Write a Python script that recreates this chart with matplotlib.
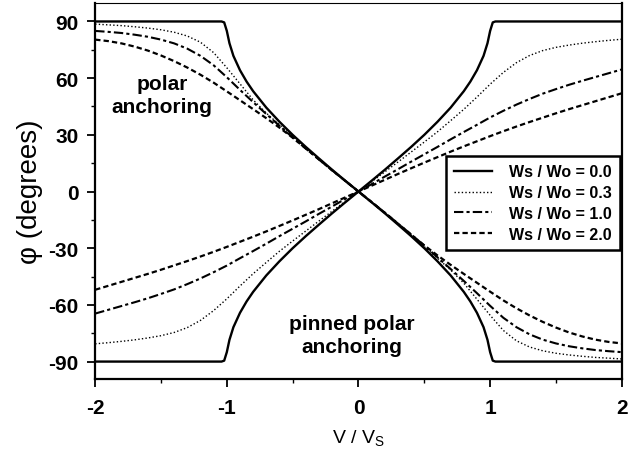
import matplotlib
matplotlib.use("Agg")
import matplotlib.pyplot as plt
import numpy as np

plt.rcParams['font.family'] = ['Liberation Sans', 'DejaVu Sans']
plt.rcParams['axes.unicode_minus'] = False
plt.rcParams['mathtext.fontset'] = 'custom'
plt.rcParams['mathtext.rm'] = 'Liberation Sans'
plt.rcParams['mathtext.default'] = 'regular'

# ------------------------------------------------------------------
# Data
# ------------------------------------------------------------------

# Ws/Wo = 0.0 (solid); the rising branch is the same curve mirrored
v_00 = [-2.0, -1.04, -1.02, -1.0, -0.98, -0.95, -0.9, -0.85, -0.8, -0.7, -0.6, -0.5, -0.4,
        -0.3, -0.2, -0.1, 0.0, 0.1, 0.2, 0.3, 0.4, 0.5, 0.6, 0.7, 0.8, 0.85, 0.9,
        0.95, 0.98, 1.0, 1.02, 1.04, 2.0]
phi_00 = [90, 90, 89.5, 85, 78.5, 71.8, 64.2, 58.2, 53.1, 44.4, 36.9, 30.0, 23.6,
          17.5, 11.5, 5.7, 0, -5.7, -11.5, -17.5, -23.6, -30.0, -36.9, -44.4, -53.1, -58.2, -64.2,
          -71.8, -78.5, -85, -89.5, -90, -90]

# common V/Vs grid for the other curves
v = [-2.0, -1.9, -1.8, -1.7, -1.6, -1.5, -1.4, -1.3, -1.2, -1.1, -1.0,
     -0.9, -0.8, -0.7, -0.6, -0.5, -0.4, -0.3, -0.2, -0.1, 0.0,
     0.1, 0.2, 0.3, 0.4, 0.5, 0.6, 0.7, 0.8, 0.9, 1.0,
     1.1, 1.2, 1.3, 1.4, 1.5, 1.6, 1.7, 1.8, 1.9, 2.0]

# polar anchoring branch (falling)
phi_03_polar = [88.6, 88.2, 87.8, 87.2, 86.5, 85.6, 84.3, 82.3, 79.0, 73.5, 65.5,
                57.0, 48.5, 41.5, 35.3, 29.2, 23.2, 17.3, 11.4, 5.7, 0,
                -5.7, -11.4, -17.3, -23.2, -29.2, -35.3, -41.5, -48.5, -57.0, -65.5,
                -73.5, -79.0, -82.3, -84.3, -85.6, -86.5, -87.2, -87.8, -88.2, -88.6]
phi_10_polar = [85.0, 84.5, 83.9, 83.0, 81.9, 80.4, 78.4, 75.6, 71.8, 66.8, 60.5,
                53.8, 47.3, 41.0, 34.8, 28.6, 22.7, 16.9, 11.2, 5.6, 0,
                -5.6, -11.2, -16.9, -22.7, -28.6, -34.8, -41.0, -47.3, -53.8, -60.5,
                -66.8, -71.8, -75.6, -78.4, -80.4, -81.9, -83.0, -83.9, -84.5, -85.0]
phi_20_polar = [80.4, 79.6, 78.4, 76.7, 74.6, 72.0, 69.0, 65.6, 61.8, 57.6, 53.0,
                48.3, 43.6, 38.8, 33.8, 28.5, 22.8, 17.0, 11.2, 5.6, 0,
                -5.6, -11.2, -17.0, -22.8, -28.5, -33.8, -38.8, -43.6, -48.3, -53.0,
                -57.6, -61.8, -65.6, -69.0, -72.0, -74.6, -76.7, -78.4, -79.6, -80.4]

# pinned polar anchoring branch (rising)
phi_03_pinned = [-80.6, -80.0, -79.3, -78.5, -77.5, -76.3, -74.6, -72.0, -68.2, -63.0, -56.8,
                 -50.0, -43.5, -37.5, -31.6, -26.2, -20.9, -15.6, -10.4, -5.2, 0,
                 5.2, 10.4, 15.6, 20.9, 26.2, 31.6, 37.5, 43.5, 50.0, 56.8,
                 63.0, 68.2, 72.0, 74.6, 76.3, 77.5, 78.5, 79.3, 80.0, 80.6]
phi_10_pinned = [-64.6, -62.6, -60.6, -58.6, -56.5, -54.2, -51.8, -49.0, -46.0, -42.7, -39.2,
                 -35.3, -31.5, -27.6, -23.6, -19.7, -15.8, -11.8, -7.9, -3.9, 0,
                 3.9, 7.9, 11.8, 15.8, 19.7, 23.6, 27.6, 31.5, 35.3, 39.2,
                 42.7, 46.0, 49.0, 51.8, 54.2, 56.5, 58.6, 60.6, 62.6, 64.6]
phi_20_pinned = [-52.0, -49.9, -47.8, -45.7, -43.6, -41.4, -39.1, -36.8, -34.4, -31.9, -29.3,
                 -26.6, -23.9, -21.1, -18.2, -15.3, -12.3, -9.3, -6.2, -3.1, 0,
                 3.1, 6.2, 9.3, 12.3, 15.3, 18.2, 21.1, 23.9, 26.6, 29.3,
                 31.9, 34.4, 36.8, 39.1, 41.4, 43.6, 45.7, 47.8, 49.9, 52.0]

labels = ['Ws / Wo = 0.0', 'Ws / Wo = 0.3', 'Ws / Wo = 1.0', 'Ws / Wo = 2.0']
x_ticks = [-2, -1, 0, 1, 2]
y_ticks = [-90, -60, -30, 0, 30, 60, 90]

# ------------------------------------------------------------------
# Plot
# ------------------------------------------------------------------

fig = plt.figure(figsize=(6.43, 4.60), dpi=100)
ax = fig.add_axes([0.148, 0.174, 0.819, 0.817])

sty_03 = dict(color='black', lw=1.0, ls=(0, (1, 1.6)))
sty_10 = dict(color='black', lw=1.5, ls=(0, (4.5, 1.5, 1.5, 1.5)))
sty_20 = dict(color='black', lw=1.6, ls=(0, (2.4, 1.4)))
sty_00 = dict(color='black', lw=1.7, ls='-')

ax.plot(v, phi_03_polar, **sty_03)
ax.plot(v, phi_03_pinned, **sty_03)
ax.plot(v, phi_10_polar, **sty_10)
ax.plot(v, phi_10_pinned, **sty_10)
ax.plot(v, phi_20_polar, **sty_20)
ax.plot(v, phi_20_pinned, **sty_20)
ax.plot(v_00, phi_00, **sty_00)
ax.plot(v_00, [-p for p in phi_00], **sty_00)

# legend handles
h00, = ax.plot([], [], **sty_00)
h03, = ax.plot([], [], **sty_03)
h10, = ax.plot([], [], **sty_10)
h20, = ax.plot([], [], **sty_20)
leg = ax.legend([h00, h03, h10, h20], labels, loc='upper right',
                bbox_to_anchor=(0.997, 0.592), fancybox=False, framealpha=1,
                edgecolor='black', handlelength=2.4, labelspacing=0.36,
                borderpad=0.5, handletextpad=1.1, borderaxespad=0,
                prop=dict(size=11.5, weight='bold'))
leg.get_frame().set_linewidth(1.8)

ax.text(-1.49, 51, 'polar\nanchoring', ha='center', va='center',
        fontsize=15, fontweight='bold', linespacing=1.25)
ax.text(-0.05, -76, 'pinned polar\nanchoring', ha='center', va='center',
        fontsize=15, fontweight='bold', linespacing=1.25)

ax.set_xlim(-2, 2)
ax.set_ylim(-99.2, 99.7)
ax.set_xticks(x_ticks)
ax.set_xticklabels([str(t) for t in x_ticks])
ax.set_yticks(y_ticks)
ax.set_yticklabels([str(t) for t in y_ticks])
ax.set_xticks(np.arange(-1.5, 2, 1.0), minor=True)
ax.set_yticks(np.arange(-75, 90, 30), minor=True)
ax.tick_params(which='major', direction='out', length=6, width=1.3, labelsize=15)
ax.tick_params(axis='x', which='major', pad=8)
ax.tick_params(axis='y', which='major', pad=6)
ax.tick_params(which='minor', direction='out', length=3, width=1.0)
for lab in ax.get_xticklabels() + ax.get_yticklabels():
    lab.set_fontweight('bold')

for side in ['left', 'bottom', 'right']:
    ax.spines[side].set_linewidth(1.6)
ax.spines['top'].set_linewidth(0.8)

ax.set_xlabel('V / V$_S$', fontsize=14, labelpad=7)
ax.set_ylabel('\u03c6 (degrees)', fontsize=20, labelpad=4)

fig.savefig('out.png', dpi=100)
